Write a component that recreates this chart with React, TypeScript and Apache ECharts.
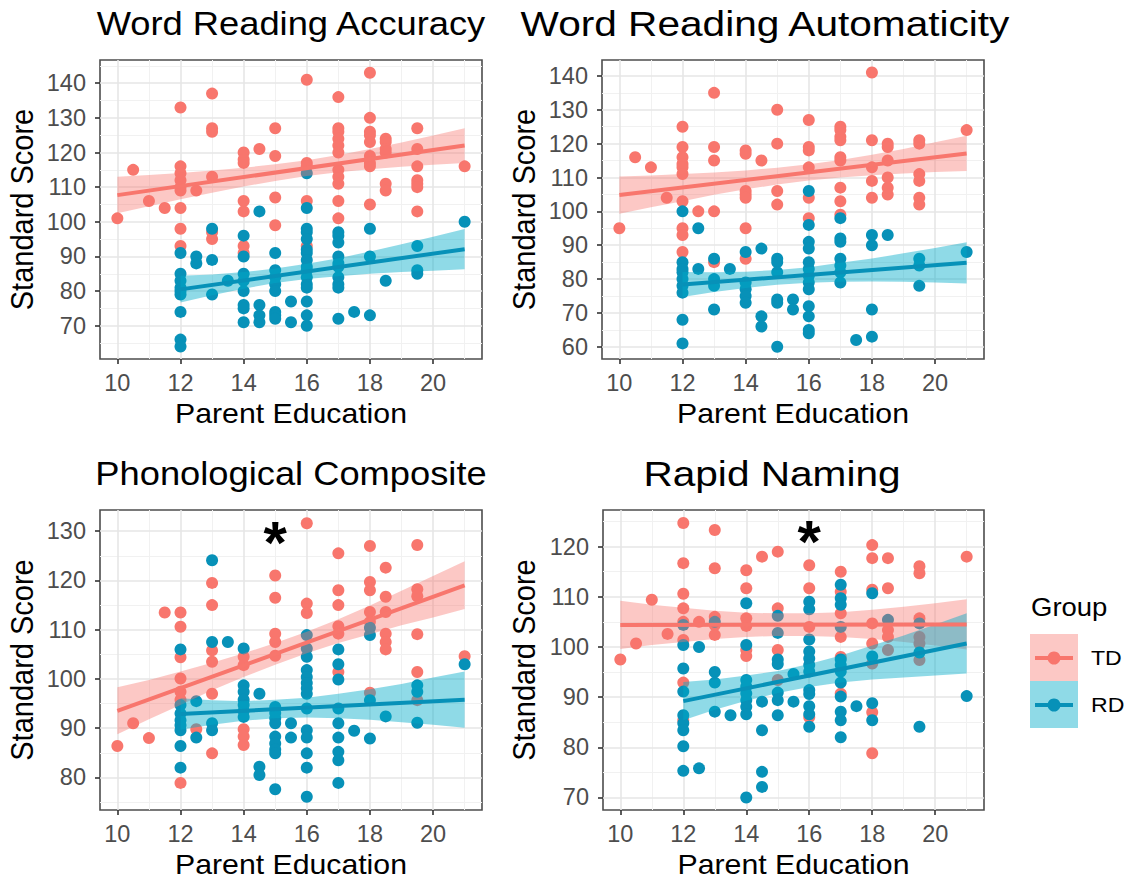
import React, { useEffect, useRef } from 'react';
import * as echarts from 'echarts';

const FONT = '"Liberation Sans", Arial, Helvetica, sans-serif';
const TD_COLOR = '#F8766D';
const RD_COLOR = '#0791B8';
const TD_FILL = 'rgba(248,118,109,0.4)';
const RD_FILL = 'rgba(0,170,200,0.44)';

// ---------- data ----------
const titles = ['Word Reading Accuracy', 'Word Reading Automaticity', 'Phonological Composite', 'Rapid Naming'];
const xName = 'Parent Education';
const yName = 'Standard Score';
const groups = ['TD', 'RD'];

const xTicks = [10, 12, 14, 16, 18, 20];
const xMinor = [11, 13, 15, 17, 19, 21];
const xRange = [9.45, 21.55];

const accYTicks = [70, 80, 90, 100, 110, 120, 130, 140];
const accYMinor = [65, 75, 85, 95, 105, 115, 125, 135, 145];
const accYRange = [60.4, 146.7];
const autoYTicks = [60, 70, 80, 90, 100, 110, 120, 130, 140];
const autoYMinor = [65, 75, 85, 95, 105, 115, 125, 135];
const autoYRange = [56.4, 144.7];
const phonYTicks = [80, 90, 100, 110, 120, 130];
const phonYMinor = [75, 85, 95, 105, 115, 125];
const phonYRange = [73.4, 134.3];
const rapYTicks = [70, 80, 90, 100, 110, 120];
const rapYMinor = [75, 85, 95, 105, 115, 125];
const rapYRange = [67.5, 127.3];

const accTD = [
  [10, 101], [10.5, 115], [11, 106], [11.5, 104],
  [12, 133], [12, 116], [12, 114], [12, 112], [12, 110], [12, 109], [12, 104], [12, 98], [12, 93],
  [12.5, 109],
  [13, 137], [13, 127], [13, 126], [13, 113], [13, 97], [13, 95],
  [14, 120], [14, 118], [14, 117], [14, 106], [14, 103], [14, 93], [14, 91],
  [14.5, 121],
  [15, 127], [15, 119], [15, 107], [15, 99],
  [16, 141], [16, 117], [16, 116], [16, 106], [16, 93],
  [17, 136], [17, 127], [17, 126], [17, 124], [17, 122], [17, 120], [17, 115], [17, 113], [17, 111], [17, 106], [17, 101],
  [18, 143], [18, 130], [18, 126], [18, 125], [18, 123], [18, 119], [18, 117], [18, 116], [18, 105],
  [18.5, 124], [18.5, 123], [18.5, 121], [18.5, 120], [18.5, 111], [18.5, 109],
  [19.5, 127], [19.5, 121], [19.5, 116], [19.5, 112], [19.5, 111], [19.5, 110], [19.5, 103],
  [21, 116],
];
const accRD = [
  [12, 91], [12, 85], [12, 83], [12, 81], [12, 80], [12, 79], [12, 74], [12, 66], [12, 64],
  [12.5, 90], [12.5, 88],
  [13, 98], [13, 89], [13, 79],
  [13.5, 83],
  [14, 96], [14, 90], [14, 85], [14, 83], [14, 80], [14, 76], [14, 75], [14, 71],
  [14.5, 103], [14.5, 76], [14.5, 73], [14.5, 71],
  [15, 91], [15, 86], [15, 84], [15, 82], [15, 80], [15, 74], [15, 73], [15, 72],
  [15.5, 77], [15.5, 71],
  [16, 114], [16, 104], [16, 98], [16, 97], [16, 95], [16, 92], [16, 91], [16, 89], [16, 87], [16, 86], [16, 84], [16, 82], [16, 81], [16, 77], [16, 73], [16, 70],
  [17, 97], [17, 96], [17, 94], [17, 90], [17, 88], [17, 87], [17, 84], [17, 82], [17, 81], [17, 72],
  [17.5, 74],
  [18, 98], [18, 90], [18, 73],
  [18.5, 83],
  [19.5, 93], [19.5, 86], [19.5, 85],
  [21, 100],
];
const autoTD = [
  [10, 95], [10.5, 116], [11, 113], [11.5, 104],
  [12, 125], [12, 119], [12, 116], [12, 114], [12, 113], [12, 111], [12, 103], [12, 95], [12, 93], [12, 88],
  [12.5, 100],
  [13, 135], [13, 119], [13, 115], [13, 100], [13, 85],
  [14, 118], [14, 117], [14, 106], [14, 105], [14, 104], [14, 95], [14, 86],
  [14.5, 115],
  [15, 130], [15, 120], [15, 106], [15, 102],
  [16, 127], [16, 119], [16, 118], [16, 113], [16, 104], [16, 98],
  [17, 125], [17, 124], [17, 122], [17, 121], [17, 116], [17, 115], [17, 107], [17, 103], [17, 99],
  [18, 141], [18, 121], [18, 113], [18, 109], [18, 104],
  [18.5, 120], [18.5, 119], [18.5, 115], [18.5, 110], [18.5, 107], [18.5, 105],
  [19.5, 121], [19.5, 120], [19.5, 111], [19.5, 109], [19.5, 104], [19.5, 102],
  [21, 124],
];
const autoRD = [
  [12, 100], [12, 85], [12, 83], [12, 82], [12, 80], [12, 78], [12, 76], [12, 68], [12, 61],
  [12.5, 95], [12.5, 83],
  [13, 86], [13, 80], [13, 78], [13, 71],
  [13.5, 83],
  [14, 88], [14, 79], [14, 77], [14, 75], [14, 73],
  [14.5, 89], [14.5, 69], [14.5, 66],
  [15, 86], [15, 85], [15, 82], [15, 74], [15, 73], [15, 60],
  [15.5, 74], [15.5, 71],
  [16, 106], [16, 96], [16, 91], [16, 89], [16, 85], [16, 83], [16, 81], [16, 79], [16, 77], [16, 72], [16, 69], [16, 65], [16, 64],
  [17, 98], [17, 92], [17, 91], [17, 86], [17, 84], [17, 82], [17, 79],
  [17.5, 62],
  [18, 93], [18, 90], [18, 71], [18, 63],
  [18.5, 93],
  [19.5, 86], [19.5, 84], [19.5, 78],
  [21, 88],
];
const phonTD = [
  [10, 86.4], [10.5, 91], [11, 88], [11.5, 113.5],
  [12, 113.5], [12, 110.6], [12, 104.4], [12, 100.1], [12, 97.4], [12, 95.8], [12, 78.9],
  [12.5, 89.8],
  [13, 119.5], [13, 115], [13, 105.8], [13, 103.5], [13, 97], [13, 84.9],
  [14, 104.5], [14, 102.8], [14, 89.8], [14, 88.3], [14, 86.6],
  [15, 121], [15, 116.5], [15, 109.2], [15, 107.5], [15, 104.7],
  [16, 131.6], [16, 115.3], [16, 113.4],
  [17, 125.5], [17, 118], [17, 115], [17, 110.7], [17, 109.2], [17, 101.4],
  [18, 127], [18, 119.7], [18, 118], [18, 113.6], [18, 111.6], [18, 97.2],
  [18.5, 122.6], [18.5, 116.7], [18.5, 113.6], [18.5, 109.2], [18.5, 107.5], [18.5, 106],
  [19.5, 127.2], [19.5, 118.2], [19.5, 116.8], [19.5, 109.1], [19.5, 101.4], [19.5, 95.7],
  [21, 104.6],
];
const phonRD = [
  [12, 106], [12, 94.7], [12, 93], [12, 91.6], [12, 90.6], [12, 89.6], [12, 86.4], [12, 82],
  [12.5, 95.5], [12.5, 88.1],
  [13, 124.1], [13, 107.5], [13, 91], [13, 89.6],
  [13.5, 107.5],
  [14, 106.2], [14, 98.7], [14, 97.4], [14, 95.8], [14, 94.7], [14, 93.5], [14, 92.3],
  [14.5, 97], [14.5, 82.2], [14.5, 80.5],
  [15, 94.3], [15, 93.1], [15, 92], [15, 91], [15, 88.3], [15, 86.9], [15, 85.7], [15, 84.9], [15, 77.6],
  [15.5, 91], [15.5, 88.1],
  [16, 108.9], [16, 106.2], [16, 104.5], [16, 101.8], [16, 100.4], [16, 99.2], [16, 98.1], [16, 97], [16, 94], [16, 89.6], [16, 88.1], [16, 84.9], [16, 82], [16, 76.1],
  [17, 106], [17, 103], [17, 99.9], [17, 94], [17, 91], [17, 88.1], [17, 85.2], [17, 83.5], [17, 78.9],
  [17.5, 89.5],
  [18, 110.4], [18, 108.9], [18, 95.7], [18, 87.9],
  [18.5, 92.4],
  [19.5, 98.7], [19.5, 97.4], [19.5, 91.1],
  [21, 103],
];
const rapTD = [
  [10, 97.5], [10.5, 100.7], [11, 109.4], [11.5, 102.6],
  [12, 124.7], [12, 116.7], [12, 110.6], [12, 107.7], [12, 105], [12, 101.4], [12, 92.9], [12, 85.4],
  [12.5, 105],
  [13, 123.3], [13, 115.7], [13, 106], [13, 104.4], [13, 102.4],
  [14, 115.3], [14, 111.7], [14, 105.7], [14, 104.2], [14, 99.4], [14, 98.2],
  [14.5, 118],
  [15, 119], [15, 107.7], [15, 99.4], [15, 93.4],
  [16, 116.3], [16, 111.7], [16, 104], [16, 86],
  [17, 115], [17, 111], [17, 106.7], [17, 102], [17, 98], [17, 90.7],
  [18, 120.3], [18, 117.7], [18, 111.4], [18, 104.7], [18, 100.7], [18, 96.7], [18, 87], [18, 78.8],
  [18.5, 117.7], [18.5, 111.7], [18.5, 103.4], [18.5, 102], [18.5, 99.4],
  [19.5, 116.1], [19.5, 114.7], [19.5, 105.7], [19.5, 102], [19.5, 100.7], [19.5, 97.4],
  [21, 118],
];
const rapRD = [
  [12, 104.4], [12, 100.4], [12, 95.7], [12, 91.1], [12, 86.4], [12, 84.8], [12, 83.4], [12, 80.2], [12, 75.3],
  [12.5, 100], [12.5, 75.8],
  [13, 105], [13, 95], [13, 92.9], [13, 87.1],
  [13.5, 86.4],
  [14, 108.7], [14, 100.4], [14, 93.4], [14, 92.1], [14, 90.7], [14, 89.4], [14, 88.1], [14, 86.6], [14, 70],
  [14.5, 89.1], [14.5, 83.4], [14.5, 75.1], [14.5, 72.1],
  [15, 106.2], [15, 102.8], [15, 97.5], [15, 96.6], [15, 90.9], [15, 89.4], [15, 86.4],
  [15.5, 94.6], [15.5, 89.1],
  [16, 109], [16, 107.5], [16, 101.5], [16, 99.1], [16, 97.7], [16, 96.4], [16, 95.1], [16, 91.4], [16, 90.6], [16, 88.2], [16, 86.6], [16, 84.1],
  [17, 112.4], [17, 109.7], [17, 108.4], [17, 104], [17, 97.5], [17, 96.4], [17, 95.1], [17, 92.9], [17, 90.1], [17, 87.1], [17, 85.4], [17, 82],
  [17.5, 88.2],
  [18, 110.7], [18, 98.1], [18, 88.8], [18, 85.4],
  [18.5, 105.4],
  [19.5, 104.7], [19.5, 98.9], [19.5, 84.1],
  [21, 90.2],
];

// regression lines [x, y]
const accTDLine = [[10, 107.7], [21, 122.0]];
const accRDLine = [[12, 80.5], [21, 92.1]];
const autoTDLine = [[10, 104.8], [21, 117.1]];
const autoRDLine = [[12, 78.4], [21, 84.8]];
const phonTDLine = [[10, 93.5], [21, 119.0]];
const phonRDLine = [[12, 92.9], [21, 95.8]];
const rapTDLine = [[10, 104.4], [21, 104.5]];
const rapRDLine = [[12, 89.2], [21, 100.7]];

// confidence bands [x, lower, upper]
const accTDBand = [[10, 102.5, 113.0], [11, 104.5, 113.5], [12, 106.5, 114.1], [13, 108.4, 114.8], [14, 110.2, 115.6], [15, 111.8, 116.6], [16, 113.2, 117.8], [17, 114.3, 119.3], [18, 115.2, 121.0], [19, 115.9, 122.9], [20, 116.5, 124.9], [21, 117.0, 127.0]];
const accRDBand = [[12, 76.7, 84.4], [13, 78.8, 84.8], [14, 80.7, 85.5], [15, 82.3, 86.5], [16, 83.5, 87.9], [17, 84.3, 89.5], [18, 85.0, 91.4], [19, 85.5, 93.5], [20, 85.9, 95.7], [21, 86.3, 97.9]];
const autoTDBand = [[10, 99.3, 110.3], [11, 101.2, 110.6], [12, 103.0, 111.0], [13, 104.9, 111.5], [14, 106.5, 112.1], [15, 107.9, 112.9], [16, 109.1, 113.9], [17, 110.0, 115.2], [18, 110.7, 116.7], [19, 111.2, 118.4], [20, 111.6, 120.4], [21, 111.9, 122.3]];
const autoRDBand = [[12, 74.7, 82.1], [13, 76.2, 82.0], [14, 77.4, 82.2], [15, 78.3, 82.7], [16, 78.9, 83.5], [17, 79.2, 84.8], [18, 79.3, 86.1], [19, 79.2, 87.6], [20, 79.0, 89.2], [21, 78.7, 90.9]];
const phonTDBand = [[10, 88.8, 98.3], [11, 91.8, 99.8], [12, 94.7, 101.5], [13, 97.7, 103.3], [14, 100.4, 105.2], [15, 102.9, 107.3], [16, 105.2, 109.6], [17, 107.3, 112.1], [18, 109.1, 114.9], [19, 110.9, 117.9], [20, 112.5, 120.9], [21, 114.2, 123.9]];
const phonRDBand = [[12, 89.7, 96.1], [13, 90.7, 95.7], [14, 91.5, 95.5], [15, 92.0, 95.8], [16, 92.2, 96.2], [17, 92.0, 97.0], [18, 91.7, 97.9], [19, 91.2, 99.0], [20, 90.7, 100.3], [21, 90.1, 101.5]];
const rapTDBand = [[10, 99.6, 109.2], [11, 100.4, 108.4], [12, 101.0, 107.8], [13, 101.6, 107.2], [14, 102.0, 106.8], [15, 102.2, 106.7], [16, 102.2, 106.7], [17, 102.0, 106.9], [18, 101.6, 107.4], [19, 101.0, 108.0], [20, 100.3, 108.7], [21, 99.5, 109.5]];
const rapRDBand = [[12, 85.4, 93.0], [13, 87.5, 93.5], [14, 89.3, 94.3], [15, 90.8, 95.2], [16, 92.0, 96.6], [17, 92.9, 98.3], [18, 93.5, 100.3], [19, 93.9, 102.3], [20, 94.3, 104.5], [21, 94.7, 106.7]];

// significance markers [x, y]
const phonStar = [15, 129.8];
const rapStar = [16, 123.0];

// ---------- layout ----------
const layouts = [
  { left: 100, top: 60, width: 382, height: 299, titleX: 291, titleY: 24, titleSize: 33, titleScale: 1.1, yNameX: 22 },
  { left: 602, top: 60, width: 382, height: 299, titleX: 765, titleY: 24, titleSize: 35, titleScale: 1.16, yNameX: 524 },
  { left: 100, top: 510, width: 382, height: 300, titleX: 291, titleY: 474, titleSize: 33, titleScale: 1.1, yNameX: 22 },
  { left: 603, top: 510, width: 381, height: 300, titleX: 772, titleY: 474, titleSize: 35, titleScale: 1.16, yNameX: 524 },
];

const panels = [
  { td: accTD, rd: accRD, tdLine: accTDLine, rdLine: accRDLine, tdBand: accTDBand, rdBand: accRDBand, yRange: accYRange, yTicks: accYTicks, yMinor: accYMinor, star: null },
  { td: autoTD, rd: autoRD, tdLine: autoTDLine, rdLine: autoRDLine, tdBand: autoTDBand, rdBand: autoRDBand, yRange: autoYRange, yTicks: autoYTicks, yMinor: autoYMinor, star: null },
  { td: phonTD, rd: phonRD, tdLine: phonTDLine, rdLine: phonRDLine, tdBand: phonTDBand, rdBand: phonRDBand, yRange: phonYRange, yTicks: phonYTicks, yMinor: phonYMinor, star: phonStar },
  { td: rapTD, rd: rapRD, tdLine: rapTDLine, rdLine: rapRDLine, tdBand: rapTDBand, rdBand: rapRDBand, yRange: rapYRange, yTicks: rapYTicks, yMinor: rapYMinor, star: rapStar },
];

const MAJOR = { color: '#e6e6e6', width: 1.6, type: 'solid' };
const MINOR = { color: '#f1f1f1', width: 1, type: 'solid' };

function bandSeries(band: number[][], fill: string, i: number) {
  return {
    type: 'custom',
    xAxisIndex: i,
    yAxisIndex: i,
    z: 3,
    silent: true,
    data: band,
    encode: { x: 0, y: [1, 2] },
    renderItem: (params: any, api: any) => {
      if (params.dataIndex !== 0) return null;
      const pts: number[][] = [];
      band.forEach((b) => pts.push(api.coord([b[0], b[2]])));
      band.slice().reverse().forEach((b) => pts.push(api.coord([b[0], b[1]])));
      return { type: 'polygon', shape: { points: pts }, style: { fill, stroke: 'none' } };
    },
  };
}

function buildOption() {
  const grid: any[] = [];
  const xAxis: any[] = [];
  const yAxis: any[] = [];
  const series: any[] = [];
  const graphic: any[] = [];

  panels.forEach((p, i) => {
    const L = layouts[i];
    grid.push({ left: L.left, top: L.top, width: L.width, height: L.height, show: true, borderColor: '#4d4d4d', borderWidth: 1.6, backgroundColor: '#fff', containLabel: false });
    xAxis.push({
      type: 'value', gridIndex: i, min: xRange[0], max: xRange[1],
      axisLine: { show: false },
      axisTick: { show: true, customValues: xTicks, length: 5, lineStyle: { color: '#333', width: 1.6 } },
      axisLabel: { show: true, customValues: xTicks, margin: 12, fontSize: 23.5, color: '#4d4d4d', fontFamily: FONT },
      splitLine: { show: false },
    });
    yAxis.push({
      type: 'value', gridIndex: i, min: p.yRange[0], max: p.yRange[1],
      axisLine: { show: false },
      axisTick: { show: true, customValues: p.yTicks, length: 5, lineStyle: { color: '#333', width: 1.6 } },
      axisLabel: { show: true, customValues: p.yTicks, margin: 14, fontSize: 23.5, color: '#4d4d4d', fontFamily: FONT },
      splitLine: { show: false },
    });

    const gridLines: any[] = [];
    xMinor.forEach((v) => gridLines.push({ xAxis: v, lineStyle: MINOR }));
    p.yMinor.forEach((v) => { if (v > p.yRange[0] && v < p.yRange[1]) gridLines.push({ yAxis: v, lineStyle: MINOR }); });
    xTicks.forEach((v) => gridLines.push({ xAxis: v, lineStyle: MAJOR }));
    p.yTicks.forEach((v) => gridLines.push({ yAxis: v, lineStyle: MAJOR }));

    series.push({
      type: 'scatter', name: groups[0], xAxisIndex: i, yAxisIndex: i, z: 2,
      data: p.td, symbolSize: 12, itemStyle: { color: TD_COLOR, opacity: 1 },
      markLine: { silent: true, z: 1, symbol: ['none', 'none'], label: { show: false }, animation: false, data: gridLines },
    });
    series.push({
      type: 'scatter', name: groups[1], xAxisIndex: i, yAxisIndex: i, z: 2,
      data: p.rd, symbolSize: 12, itemStyle: { color: RD_COLOR, opacity: 1 },
    });
    series.push(bandSeries(p.tdBand, TD_FILL, i));
    series.push(bandSeries(p.rdBand, RD_FILL, i));
    series.push({ type: 'line', xAxisIndex: i, yAxisIndex: i, z: 4, data: p.tdLine, symbol: 'none', lineStyle: { color: TD_COLOR, width: 4 }, silent: true });
    series.push({ type: 'line', xAxisIndex: i, yAxisIndex: i, z: 4, data: p.rdLine, symbol: 'none', lineStyle: { color: RD_COLOR, width: 4 }, silent: true });
    if (p.star) {
      series.push({
        type: 'scatter', xAxisIndex: i, yAxisIndex: i, z: 6, data: [p.star], symbolSize: 1,
        itemStyle: { color: 'rgba(0,0,0,0)' },
        label: { show: true, formatter: '*', position: 'inside', fontSize: 60, fontWeight: 'bold', color: '#000', opacity: 1, fontFamily: FONT, offset: [0, 10] },
      });
    }

    graphic.push({
      type: 'text', x: L.titleX, y: L.titleY, scaleX: L.titleScale,
      style: { text: titles[i], x: 0, y: 0, textAlign: 'center', textVerticalAlign: 'middle', fontSize: L.titleSize, fontFamily: FONT, fill: '#000' },
    });
    graphic.push({
      type: 'text', x: L.left + L.width / 2, y: L.top + L.height + 54, scaleX: 1.08,
      style: { text: xName, x: 0, y: 0, textAlign: 'center', textVerticalAlign: 'middle', fontSize: 28, fontFamily: FONT, fill: '#000' },
    });
    graphic.push({
      type: 'text', x: L.yNameX, y: L.top + L.height / 2, rotation: Math.PI / 2, scaleY: 1.08,
      style: { text: yName, x: 0, y: 0, textAlign: 'center', textVerticalAlign: 'middle', fontSize: 29, fontFamily: FONT, fill: '#000' },
    });
  });

  // legend
  graphic.push({ type: 'text', x: 1031, y: 607, scaleX: 1.1, style: { text: 'Group', x: 0, y: 0, textAlign: 'left', textVerticalAlign: 'middle', fontSize: 25, fontFamily: FONT, fill: '#000' } });
  const keys = [
    { y: 634, fill: TD_FILL, color: TD_COLOR, label: groups[0] },
    { y: 681, fill: RD_FILL, color: RD_COLOR, label: groups[1] },
  ];
  keys.forEach((k) => {
    graphic.push({ type: 'rect', shape: { x: 1030, y: k.y, width: 48, height: 47 }, style: { fill: k.fill } });
    graphic.push({ type: 'line', shape: { x1: 1035, y1: k.y + 24, x2: 1073, y2: k.y + 24 }, style: { stroke: k.color, lineWidth: 4 } });
    graphic.push({ type: 'circle', shape: { cx: 1054, cy: k.y + 24, r: 6.5 }, style: { fill: k.color } });
    graphic.push({ type: 'text', x: 1091, y: k.y + 24, scaleX: 1.1, style: { text: k.label, x: 0, y: 0, textAlign: 'left', textVerticalAlign: 'middle', fontSize: 21, fontFamily: FONT, fill: '#000' } });
  });

  return {
    animation: false,
    backgroundColor: '#ffffff',
    textStyle: { fontFamily: FONT },
    grid, xAxis, yAxis, series, graphic,
  };
}

export default function App() {
  const ref = useRef<HTMLDivElement>(null);
  useEffect(() => {
    if (!ref.current) return;
    const chart = echarts.init(ref.current, null, { renderer: 'svg' });
    chart.setOption(buildOption() as any);
    return () => chart.dispose();
  }, []);
  return <div ref={ref} style={{ position: 'fixed', left: 0, top: 0, width: 1130, height: 883 }} />;
}
